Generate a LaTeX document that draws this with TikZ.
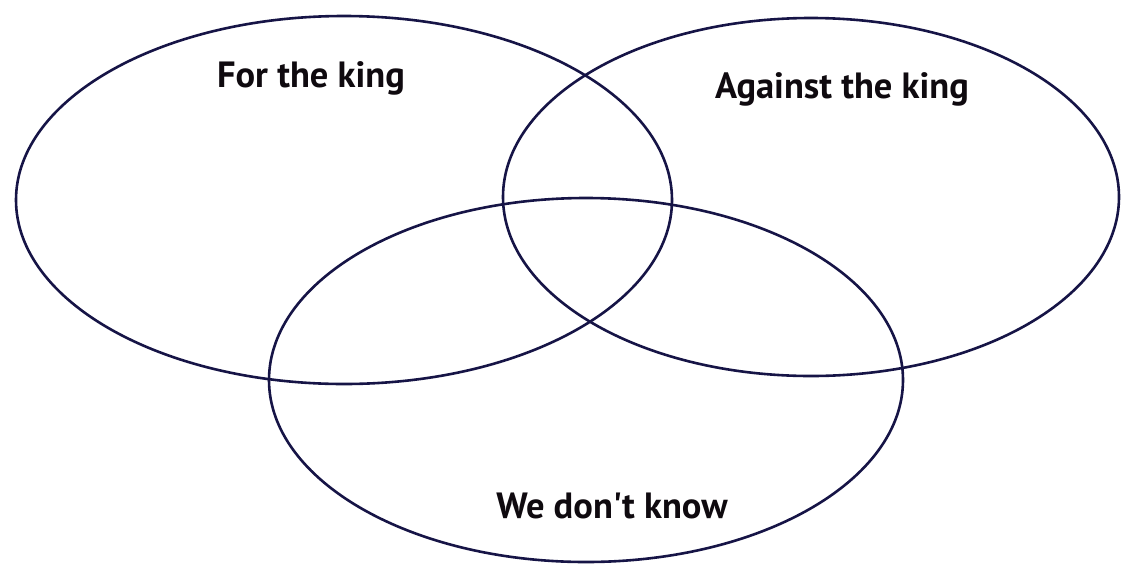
\documentclass[tikz,border=0pt]{standalone}
\usepackage{fontspec}
\setmainfont{PT Sans}
\begin{document}
\begin{tikzpicture}[x=1pt,y=-1pt,
  ring/.style={draw={rgb,255:red,22;green,20;blue,70},line width=2.6pt},
  lab/.style={anchor=base,inner sep=0pt,font=\fontsize{36.5}{40}\selectfont\bfseries,text={rgb,255:red,15;green,10;blue,15}}]
\useasboundingbox (0,0) rectangle (1128,574);
\fill[white] (0,0) rectangle (1128,574);
\draw[ring] (344,200) ellipse [x radius=328, y radius=184];
\draw[ring] (811,197) ellipse [x radius=308, y radius=179];
\draw[ring] (586,380) ellipse [x radius=317, y radius=182];
\node[lab] (for) at (311,87) {For the king};
\node[lab] (against) at (842,98) {Against the king};
\node[lab] (dont) at (612,518) {We don\textquotesingle t know};
\end{tikzpicture}
\end{document}
